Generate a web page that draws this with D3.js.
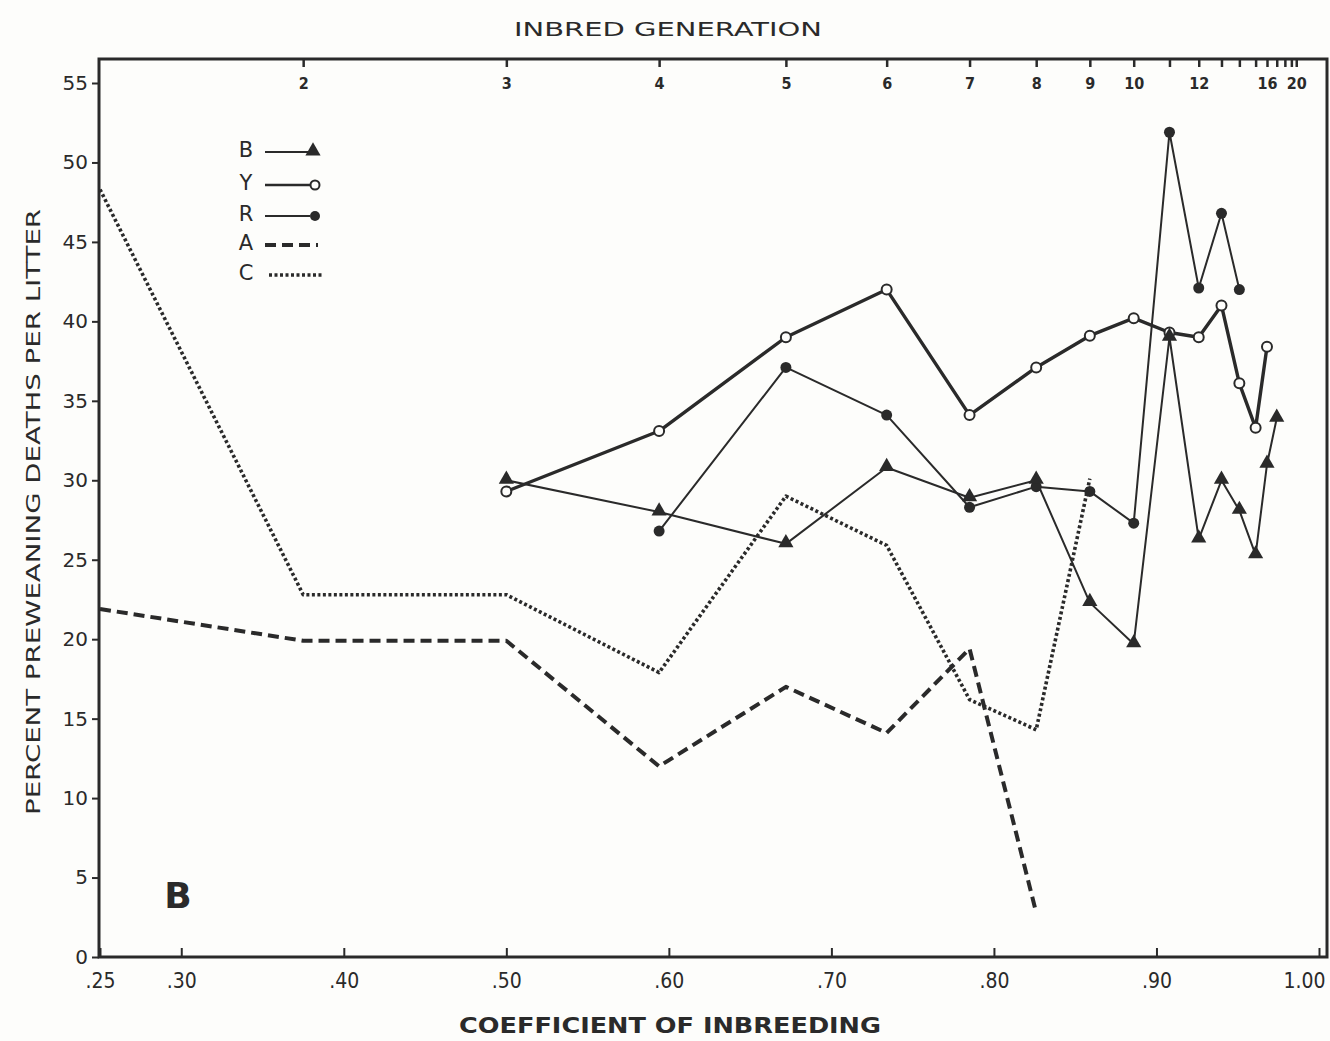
<!DOCTYPE html>
<html>
<head>
<meta charset="utf-8">
<script src="https://cdn.jsdelivr.net/npm/d3@7/dist/d3.min.js"></script>
<style>
  html, body { margin: 0; padding: 0; background: #fdfdfb; }
  svg { display: block; }
  text { font-family: "DejaVu Sans", "Liberation Sans", sans-serif; fill: #2a2a2a; }
</style>
</head>
<body>
<svg id="chart" width="1330" height="1041"></svg>
<script>
// ---------- data ----------
const bottomTicks = [0.25, 0.30, 0.40, 0.50, 0.60, 0.70, 0.80, 0.90, 1.00];
const bottomTickLabels = [".25", ".30", ".40", ".50", ".60", ".70", ".80", ".90", "1.00"];
const yTicks = [0, 5, 10, 15, 20, 25, 30, 35, 40, 45, 50, 55];
const yTickLabels = ["0", "5", "10", "15", "20", "25", "30", "35", "40", "45", "50", "55"];

// inbred generation (top axis): coefficient of inbreeding at generations 2..20
const generations = [2, 3, 4, 5, 6, 7, 8, 9, 10, 11, 12, 13, 14, 15, 16, 17, 18, 19, 20];
const generationF = [0.375, 0.5, 0.594, 0.672, 0.734, 0.785, 0.826, 0.859, 0.886, 0.908,
                     0.926, 0.940, 0.951, 0.961, 0.968, 0.974, 0.979, 0.983, 0.986];
const generationLabels = ["2", "3", "4", "5", "6", "7", "8", "9", "10", "", "12", "", "", "", "16", "", "", "", "20"];

const seriesB_x = [0.5, 0.594, 0.672, 0.734, 0.785, 0.826, 0.859, 0.886, 0.908, 0.926, 0.940, 0.951, 0.961, 0.968, 0.974];
const seriesB_y = [30.0, 28.0, 26.0, 30.8, 28.9, 30.0, 22.3, 19.7, 39.0, 26.3, 30.0, 28.1, 25.3, 31.0, 33.9];

const seriesY_x = [0.5, 0.594, 0.672, 0.734, 0.785, 0.826, 0.859, 0.886, 0.908, 0.926, 0.940, 0.951, 0.961, 0.968];
const seriesY_y = [29.3, 33.1, 39.0, 42.0, 34.1, 37.1, 39.1, 40.2, 39.3, 39.0, 41.0, 36.1, 33.3, 38.4];

const seriesR_x = [0.594, 0.672, 0.734, 0.785, 0.826, 0.859, 0.886, 0.908, 0.926, 0.940, 0.951];
const seriesR_y = [26.8, 37.1, 34.1, 28.3, 29.6, 29.3, 27.3, 51.9, 42.1, 46.8, 42.0];

const seriesA_x = [0.25, 0.375, 0.5, 0.594, 0.672, 0.734, 0.785, 0.826];
const seriesA_y = [21.9, 19.9, 19.9, 12.0, 17.0, 14.1, 19.4, 2.8];

const seriesC_x = [0.25, 0.375, 0.5, 0.594, 0.672, 0.734, 0.785, 0.826, 0.859];
const seriesC_y = [48.3, 22.8, 22.8, 17.9, 29.0, 25.9, 16.2, 14.3, 30.1];

const legendNames = ["B", "Y", "R", "A", "C"];

// ---------- layout ----------
const ink = "#2a2a2a";
const svg = d3.select("#chart");
const frame = { left: 99, right: 1327, top: 59, bottom: 957 };

const x = d3.scaleLinear().domain([0.25, 1.0]).range([100, 1319]);
const y = d3.scaleLinear().domain([0, 55]).range([957, 83]);

// frame
svg.append("rect")
  .attr("x", frame.left).attr("y", frame.top)
  .attr("width", frame.right - frame.left).attr("height", frame.bottom - frame.top)
  .attr("fill", "none").attr("stroke", ink).attr("stroke-width", 3);

// bottom axis (ticks inside)
const xAxis = d3.axisBottom(x).tickValues(bottomTicks)
  .tickFormat((d, i) => bottomTickLabels[i]).tickSize(-9).tickPadding(16);
const gx = svg.append("g").attr("transform", `translate(0,${frame.bottom})`).call(xAxis);
gx.select(".domain").remove();
gx.selectAll(".tick line").attr("stroke", ink).attr("stroke-width", 2);
gx.selectAll(".tick text").attr("font-size", 21).attr("fill", ink)
  .style("font-family", "'DejaVu Sans Condensed','DejaVu Sans',sans-serif");
gx.selectAll(".tick text").filter((d, i) => i === bottomTicks.length - 1)
  .attr("text-anchor", "end").attr("dx", 6);

// left axis (ticks outside)
const yAxis = d3.axisLeft(y).tickValues(yTicks)
  .tickFormat((d, i) => yTickLabels[i]).tickSize(7).tickPadding(4);
const gy = svg.append("g").attr("transform", `translate(${frame.left},0)`).call(yAxis);
gy.select(".domain").remove();
gy.selectAll(".tick line").attr("stroke", ink).attr("stroke-width", 2);
gy.selectAll(".tick text").attr("font-size", 20).attr("fill", ink)
  .style("font-family", "'DejaVu Sans','Liberation Sans',sans-serif");

// top axis: inbred generation (ticks inside, labels inside)
const xTop = d3.axisTop(x).tickValues(generationF)
  .tickFormat((d, i) => generationLabels[i]).tickSize(-8).tickPadding(-30);
const gt = svg.append("g").attr("transform", `translate(0,${frame.top})`).call(xTop);
gt.select(".domain").remove();
gt.selectAll(".tick line").attr("stroke", ink).attr("stroke-width", 2.5);
gt.selectAll(".tick text").attr("font-size", 16).attr("font-weight", "bold").attr("fill", ink)
  .style("font-family", "'DejaVu Sans Condensed','DejaVu Sans',sans-serif");

// titles
svg.append("text").attr("x", 668).attr("y", 36).attr("text-anchor", "middle")
  .attr("font-size", 19).attr("textLength", 308).attr("lengthAdjust", "spacingAndGlyphs")
  .text("INBRED GENERATION");
svg.append("text").attr("x", 670).attr("y", 1033).attr("text-anchor", "middle")
  .attr("font-size", 22).attr("font-weight", "bold").attr("textLength", 422).attr("lengthAdjust", "spacingAndGlyphs")
  .style("font-family", "'DejaVu Sans Condensed','DejaVu Sans',sans-serif")
  .text("COEFFICIENT OF INBREEDING");
svg.append("text").attr("transform", "translate(40,512) rotate(-90)").attr("text-anchor", "middle")
  .attr("font-size", 20).attr("textLength", 606).attr("lengthAdjust", "spacingAndGlyphs")
  .text("PERCENT PREWEANING DEATHS PER LITTER");

// panel letter
svg.append("text").attr("x", 178).attr("y", 908).attr("text-anchor", "middle")
  .attr("font-size", 36).attr("font-weight", "bold").text("B");

// ---------- lines ----------
const line = d3.line().x(d => x(d[0])).y(d => y(d[1]));
const zip = (xs, ys) => xs.map((v, i) => [v, ys[i]]);

const dataB = zip(seriesB_x, seriesB_y);
const dataY = zip(seriesY_x, seriesY_y);
const dataR = zip(seriesR_x, seriesR_y);
const dataA = zip(seriesA_x, seriesA_y);
const dataC = zip(seriesC_x, seriesC_y);

const styles = {
  B: { width: 2, dash: null },
  Y: { width: 3.4, dash: null },
  R: { width: 2, dash: null },
  A: { width: 4, dash: "11,6" },
  C: { width: 3.6, dash: "3,2.5" }
};

function drawLine(data, st) {
  svg.append("path").datum(data).attr("d", line)
    .attr("fill", "none").attr("stroke", ink)
    .attr("stroke-width", st.width)
    .attr("stroke-dasharray", st.dash)
    .attr("stroke-linejoin", "round");
}
drawLine(dataC, styles.C);
drawLine(dataA, styles.A);
drawLine(dataB, styles.B);
drawLine(dataR, styles.R);
drawLine(dataY, styles.Y);

// ---------- markers ----------
const triSym = d3.symbol().type(d3.symbolTriangle).size(100);
function drawTriangles(data) {
  svg.append("g").selectAll("path").data(data).join("path")
    .attr("d", triSym)
    .attr("transform", d => `translate(${x(d[0])},${y(d[1]) - 1})`)
    .attr("fill", ink);
}
function drawDots(data) {
  svg.append("g").selectAll("circle").data(data).join("circle")
    .attr("cx", d => x(d[0])).attr("cy", d => y(d[1])).attr("r", 5.5)
    .attr("fill", ink);
}
function drawOpen(data) {
  svg.append("g").selectAll("circle").data(data).join("circle")
    .attr("cx", d => x(d[0])).attr("cy", d => y(d[1])).attr("r", 5)
    .attr("fill", "#fdfdfb").attr("stroke", ink).attr("stroke-width", 2);
}
drawOpen(dataY);
drawDots(dataR);
drawTriangles(dataB);

// ---------- legend ----------
const legendY = [150, 183, 214, 243, 273];
const lg = svg.append("g");
legendNames.forEach((name, i) => {
  const yy = legendY[i];
  lg.append("text").attr("x", 246).attr("y", yy + 7).attr("text-anchor", "middle")
    .attr("font-size", 21).text(name);
  const st = styles[name];
  const x1 = 265, x2 = name === "A" ? 318 : (name === "C" ? 323 : 310);
  lg.append("line").attr("x1", name === "C" ? 269 : x1).attr("x2", x2)
    .attr("y1", yy + 2).attr("y2", yy + 2)
    .attr("stroke", ink).attr("stroke-width", name === "Y" ? 2.5 : st.width)
    .attr("stroke-dasharray", st.dash);
  if (name === "B") {
    lg.append("path").attr("d", triSym).attr("transform", `translate(313,${yy + 1})`).attr("fill", ink);
  } else if (name === "Y") {
    lg.append("circle").attr("cx", 315).attr("cy", yy + 2).attr("r", 4.5)
      .attr("fill", "#fdfdfb").attr("stroke", ink).attr("stroke-width", 2);
  } else if (name === "R") {
    lg.append("circle").attr("cx", 315).attr("cy", yy + 2).attr("r", 5).attr("fill", ink);
  }
});
</script>
</body>
</html>
